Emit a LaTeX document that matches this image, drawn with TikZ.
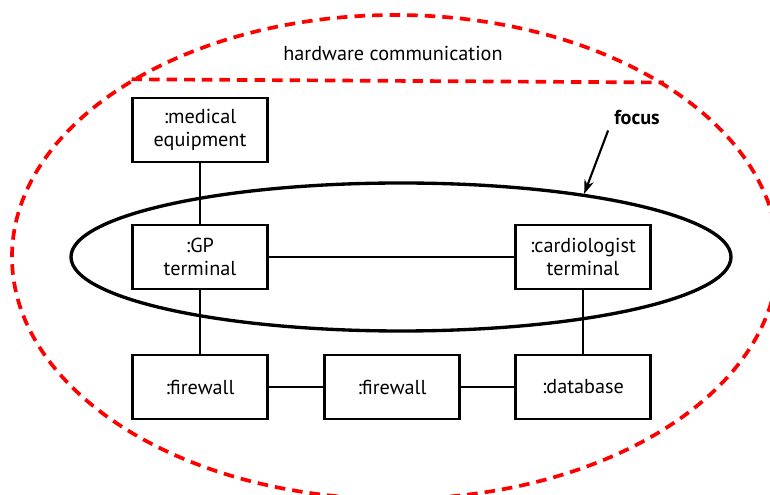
\documentclass[tikz,border=0pt]{standalone}
\usepackage{fontspec}
\setmainfont{PT Sans}
\usepackage{tikz}
\usetikzlibrary{arrows.meta,shapes.geometric}

\begin{document}
\begin{tikzpicture}[>={Stealth[length=8pt,width=5.5pt]}, font=\fontsize{11.5}{13}\selectfont,
    part/.style={draw, line width=1.7pt, minimum width=2.7cm, minimum height=1.28cm, align=center, inner sep=2pt},
    link/.style={line width=1.3pt},
    hwline/.style={draw=red, line width=2.1pt, dash pattern=on 6pt off 4pt}]
	\useasboundingbox (0,0) rectangle (15.4,9.9);
	\clip (0,0) rectangle (15.4,9.9);
	% hardware communication area
	\node[ellipse, hwline, minimum width=15.32cm, minimum height=9.68cm] (hw) at (7.9,4.76) {};
	\draw[hwline] (hw.146.6) -- (hw.33.4);
	\node (hwlabel) at (7.86,8.84) {hardware communication};
	% focus
	\node[ellipse, draw, line width=1.9pt, minimum width=13.2cm, minimum height=2.96cm] (focusring) at (8.02,4.76) {};
	\node[font=\fontsize{11.5}{13}\selectfont\bfseries] (focuslabel) at (12.74,7.56) {focus};
	\draw[->, line width=1.2pt] (focuslabel.south west) -- (focusring.19);
	% parts
	\node[part] (medeq) at (4,7.3) {:medical\\equipment};
	\node[part] (gpterm) at (4,4.76) {:GP\\terminal};
	\node[part] (cardterm) at (11.66,4.76) {:cardiologist\\terminal};
	\node[part] (fwgp) at (4,2.16) {:firewall};
	\node[part] (fwmid) at (7.84,2.16) {:firewall};
	\node[part] (dbase) at (11.66,2.16) {:database};
	% links
	\draw[link] (medeq) -- (gpterm);
	\draw[link] (gpterm) -- (cardterm);
	\draw[link] (gpterm) -- (fwgp);
	\draw[link] (cardterm) -- (dbase);
	\draw[link] (fwgp) -- (fwmid) -- (dbase);
\end{tikzpicture}
\end{document}
